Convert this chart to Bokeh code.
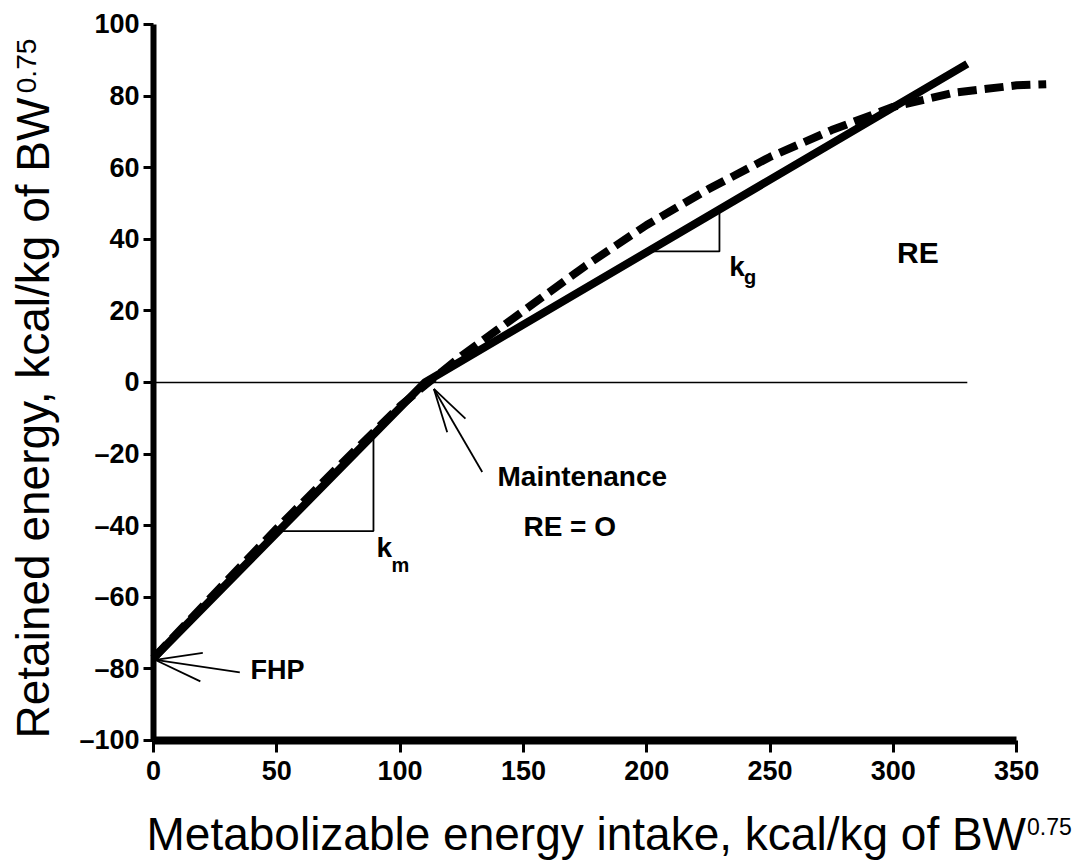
import math
from bokeh.plotting import figure
from bokeh.models import Range1d, Label, FixedTicker, LinearAxis
from bokeh.embed import file_html
from bokeh.resources import INLINE

# ---- data ----
solid_x = [0, 110, 330]
solid_y = [-77, 0, 89]

dash_x = [0, 25, 50, 75, 100, 110, 125, 150, 175, 200, 225, 250, 275, 300, 325, 350, 362]
dash_y = [-77, -58.8, -40.8, -23.5, -6.6, -0.8, 7.5, 20, 32.5, 44, 54, 63, 70.5, 77, 81, 83, 83.3]

zero_x = [0, 330]
zero_y = [0, 0]

km_x = [51.5, 89.2, 89.2]
km_y = [-41.5, -41.5, -14.6]
kg_x = [200.5, 229.5, 229.5]
kg_y = [36.6, 36.6, 48.2]

fhp_shaft_x = [0.8, 35]
fhp_shaft_y = [-77.5, -81]
fhp_arm1_x = [0.8, 20]
fhp_arm1_y = [-77.5, -75.5]
fhp_arm2_x = [0.8, 19]
fhp_arm2_y = [-77.5, -83.5]

mt_shaft_x = [113.7, 133.3]
mt_shaft_y = [-1.8, -25]
mt_arm1_x = [113.7, 126.5]
mt_arm1_y = [-1.8, -10.1]
mt_arm2_x = [113.7, 119.1]
mt_arm2_y = [-1.8, -13.9]

x_ticks = [0, 50, 100, 150, 200, 250, 300, 350]
y_ticks = [-100, -80, -60, -40, -20, 0, 20, 40, 60, 80, 100]
y_tick_labels = {t: (("\u2013" + str(-t)) if t < 0 else str(t)) for t in y_ticks}

x_title = "Metabolizable energy intake, kcal/kg of BW"
y_title = "Retained energy, kcal/kg of BW"
title_sup = "0.75"

SANS = "Liberation Sans"

# frame fills the whole canvas; axes are pinned at x=0 and y=-100
p = figure(width=1072, height=862, output_backend="svg", toolbar_location=None,
           x_range=Range1d(-62.04, 372.66), y_range=Range1d(-134.08, 106.70),
           x_axis_location=None, y_axis_location=None)
p.min_border_left = 0
p.min_border_right = 0
p.min_border_top = 0
p.min_border_bottom = 0
p.grid.visible = False
p.outline_line_color = None
p.background_fill_color = "white"
p.border_fill_color = "white"

xax = LinearAxis(fixed_location=-100, ticker=FixedTicker(ticks=x_ticks), bounds=(0, 350))
yax = LinearAxis(fixed_location=0, ticker=FixedTicker(ticks=y_ticks), bounds=(-100, 100),
                 major_label_overrides=y_tick_labels)
for ax in (xax, yax):
    ax.axis_line_color = "black"
    ax.major_tick_line_width = 3
    ax.major_tick_in = 0
    ax.minor_tick_line_color = None
    ax.major_label_text_font = SANS
    ax.major_label_text_font_style = "bold"
    ax.major_label_text_font_size = "27px"
    ax.major_label_text_color = "black"
xax.axis_line_width = 8
xax.major_tick_out = 12
xax.major_label_standoff = 9
yax.axis_line_width = 6
yax.major_tick_out = 10
yax.major_label_standoff = 4
p.add_layout(xax, "below")
p.add_layout(yax, "left")

# lines
p.line(zero_x, zero_y, line_color="black", line_width=1.5)
p.line(dash_x, dash_y, line_color="black", line_width=8, line_dash="19 8", line_cap="butt")
p.line(solid_x, solid_y, line_color="black", line_width=8)
p.line(km_x, km_y, line_color="black", line_width=1.8)
p.line(kg_x, kg_y, line_color="black", line_width=1.8)
for xs, ys in [(fhp_shaft_x, fhp_shaft_y), (fhp_arm1_x, fhp_arm1_y), (fhp_arm2_x, fhp_arm2_y),
               (mt_shaft_x, mt_shaft_y), (mt_arm1_x, mt_arm1_y), (mt_arm2_x, mt_arm2_y)]:
    p.line(xs, ys, line_color="black", line_width=1.8)

BASE_FIX = 0.38  # correction (in em) so the anchor sits on the glyph baseline

def lab(x, y, text, size_px, style="bold", rotated=False):
    fix = BASE_FIX * size_px
    kw = dict(x_offset=-fix, y_offset=0) if rotated else dict(x_offset=0, y_offset=fix)
    p.add_layout(Label(x=x, y=y, text=text, text_font=SANS, text_font_style=style,
                       text_font_size=f"{size_px}px", text_color="black",
                       text_baseline="alphabetic", text_align="left",
                       angle=(math.pi / 2 if rotated else 0.0), **kw))

lab(39.3, -83.2, "FHP", 27)
lab(139.5, -29.3, "Maintenance", 28)
lab(150, -43.3, "RE = O", 28)
lab(301.5, 33.2, "RE", 30)
lab(90.4, -49.2, "k", 28)
lab(96.5, -53.0, "m", 20)
lab(233.5, 29.3, "k", 28)
lab(239.5, 27.4, "g", 20)

# axis titles with superscripts
lab(-2.84, -131.0, x_title, 46, style="normal")
lab(354.2, -126.5, title_sup, 23, style="normal")
lab(-41.77, -99.44, y_title, 46, style="normal", rotated=True)
lab(-47.04, 80.8, title_sup, 28, style="normal", rotated=True)

open("out.html", "w").write(file_html(p, INLINE))
